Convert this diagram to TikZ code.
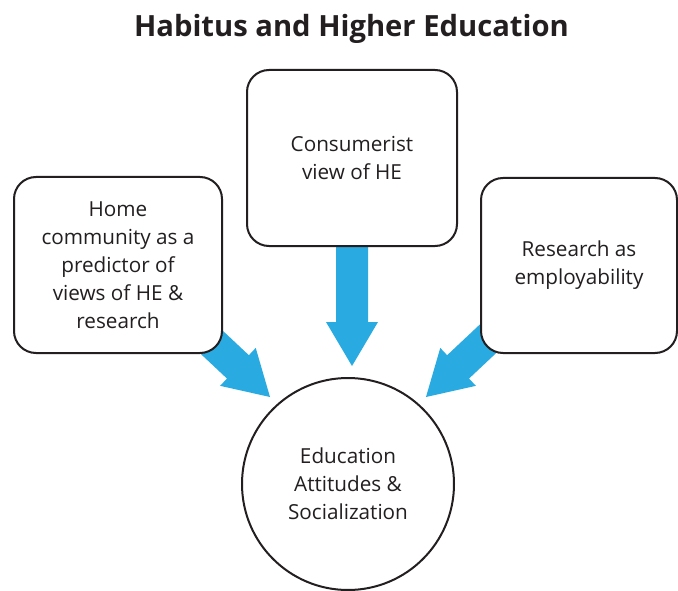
\documentclass[tikz,border=0pt]{standalone}
\usepackage{fontspec}
\setmainfont{Open Sans}
\definecolor{arrowblue}{HTML}{29ABE2}
\definecolor{ink}{HTML}{231F20}
\begin{document}
\begin{tikzpicture}[x=1pt,y=-1pt,
  box/.style={draw=ink, line width=2pt, fill=white, rounded corners=22pt,
    align=center, text=ink, font=\fontsize{20.7}{28}\selectfont, inner sep=0pt},
  hub/.style={draw=ink, line width=2pt, fill=white, circle, minimum size=212pt,
    align=center, text=ink, font=\fontsize{20.7}{28}\selectfont, inner sep=0pt},
  blockarrow/.style={fill=arrowblue, draw=none}]
\useasboundingbox (0,0) rectangle (678,591);
\fill[white] (0,0) rectangle (678,591);
% title
\node[anchor=base, text=ink, font=\fontsize{29.2}{34}\selectfont\bfseries] (title) at (351.5,37) {Habitus and Higher Education};
% arrow tips
\coordinate (tipL) at (270,397);
\coordinate (tipC) at (352,366);
\coordinate (tipR) at (426,397);
% block arrows (drawn behind the boxes)
\foreach \t/\a in {tipL/-43.2, tipC/-90, tipR/-136.8}{
  \begin{scope}[shift={(\t)}, rotate=\a, x=1pt, y=1pt]
    \path[blockarrow] (0,0) -- (-44,26) -- (-44,16) -- (-135,16) -- (-135,-16) -- (-44,-16) -- (-44,-26) -- cycle;
  \end{scope}
}
% boxes
\node[box, minimum width=208pt, minimum height=176pt] (home) at (118,265)
  {Home\\community as a\\predictor of\\views of HE \&\\research};
\node[box, minimum width=210pt, minimum height=176pt] (cons) at (352,158)
  {Consumerist\\view of HE};
\node[box, minimum width=196pt, minimum height=175pt] (res) at (579,265.5)
  {Research as\\employability};
\node[hub] (edu) at (348,484) {Education\\Attitudes \&\\Socialization};
\end{tikzpicture}
\end{document}
